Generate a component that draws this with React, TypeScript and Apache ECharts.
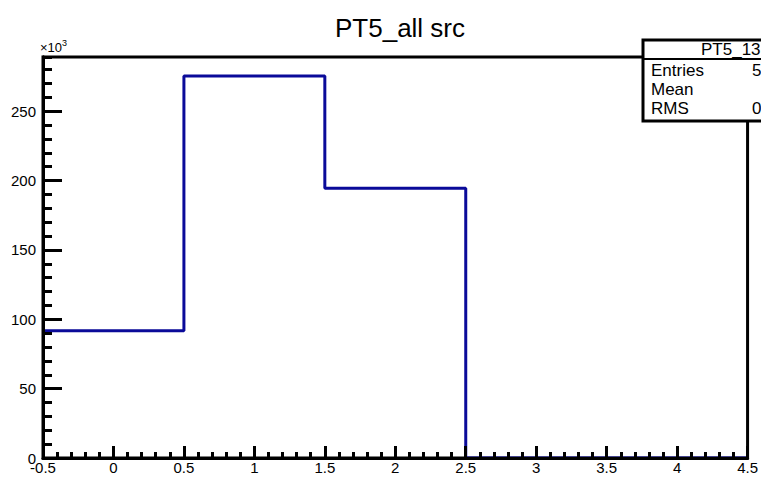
import React, { useEffect, useRef } from "react";
import * as echarts from "echarts";

// Histogram PT5_all src: bin edges and bin contents
const binEdges = [-0.5, 0.5, 1.5, 2.5, 3.5, 4.5];
const binCenters = [0, 1, 2, 3, 4];
const binContents = [91800, 275300, 194400, 0, 0];
const histName = "PT5_13";
const statLabels = ["Entries", "Mean", "RMS"];

const FONT = "Liberation Sans, Arial, Helvetica, sans-serif";

function stats() {
  const n = binContents.reduce((a, b) => a + b, 0);
  const mean = binContents.reduce((a, c, i) => a + c * binCenters[i], 0) / n;
  const m2 = binContents.reduce((a, c, i) => a + c * binCenters[i] * binCenters[i], 0) / n;
  const rms = Math.sqrt(m2 - mean * mean);
  return [n.toExponential(3).replace("e+", "e+0"), mean.toFixed(3), rms.toFixed(4)];
}

// step outline of the histogram
function outline(): [number, number][] {
  const pts: [number, number][] = [];
  for (let i = 0; i < binContents.length; i++) {
    pts.push([binEdges[i], binContents[i]]);
    pts.push([binEdges[i + 1], binContents[i]]);
  }
  return pts;
}

export default function App() {
  const ref = useRef<HTMLDivElement>(null);
  useEffect(() => {
    const chart = echarts.init(ref.current!, undefined, { renderer: "svg" });
    const st = stats();
    const yMax = Math.max(...binContents) * 1.05;
    const axisLine = { show: true, onZero: false, lineStyle: { color: "#000", width: 3 } };
    chart.setOption({
      animation: false,
      backgroundColor: "#ffffff",
      title: {
        text: "PT5_all src",
        left: 395,
        top: 10,
        textAlign: "center",
        textStyle: { fontFamily: FONT, fontSize: 26, fontWeight: "normal", color: "#000" },
      },
      grid: {
        left: 43,
        right: 11,
        top: 57,
        bottom: 19,
        show: true,
        borderColor: "#000",
        borderWidth: 3,
        backgroundColor: "transparent",
      },
      xAxis: {
        type: "value",
        min: -0.5,
        max: 4.5,
        interval: 0.5,
        z: 5,
        axisLine,
        axisTick: { show: true, inside: true, length: 12, lineStyle: { color: "#000", width: 3 } },
        minorTick: { show: true, splitNumber: 5, length: 6, lineStyle: { color: "#000", width: 3 } },
        splitLine: { show: false },
        axisLabel: {
          margin: 2,
          fontFamily: FONT,
          fontSize: 15,
          color: "#000",
          showMinLabel: true,
          showMaxLabel: true,
          formatter: (v: number) => String(v),
        },
      },
      yAxis: [
        {
          // labelled axis, major divisions
          type: "value",
          min: 0,
          max: yMax,
          interval: 50000,
          z: 5,
          axisLine,
          axisTick: { show: true, inside: true, length: 19, lineStyle: { color: "#000", width: 3 } },
          splitLine: { show: false },
          axisLabel: {
            margin: 7,
            fontFamily: FONT,
            fontSize: 15,
            color: "#000",
            showMaxLabel: false,
            formatter: (v: number) => String(Math.round(v / 1000)),
          },
        },
        {
          // minor divisions up to the top of the frame
          type: "value",
          position: "left",
          min: 0,
          max: yMax,
          interval: 10000,
          z: 5,
          axisLine,
          axisTick: { show: true, inside: true, length: 9, lineStyle: { color: "#000", width: 3 } },
          splitLine: { show: false },
          axisLabel: { show: false },
        },
      ],
      series: [
        {
          type: "line",
          data: outline(),
          symbol: "none",
          yAxisIndex: 0,
          lineStyle: { color: "#0a0a99", width: 3 },
          z: 1,
        },
      ],
      graphic: [
        {
          type: "text",
          left: 40,
          top: 38,
          z: 10,
          style: {
            text: "{a|×10}{b|3}",
            rich: {
              a: { fontFamily: FONT, fontSize: 13, color: "#000", verticalAlign: "bottom" },
              b: { fontFamily: FONT, fontSize: 9, color: "#000", verticalAlign: "top", padding: [0, 0, 7, 0] },
            },
          },
        },
        {
          type: "group",
          z: 20,
          children: [
            {
              type: "rect",
              shape: { x: 643, y: 40, width: 200, height: 81 },
              style: { fill: "#fff", stroke: "#000", lineWidth: 3 },
            },
            {
              type: "line",
              shape: { x1: 643, y1: 59, x2: 800, y2: 59 },
              style: { stroke: "#000", lineWidth: 2 },
            },
            {
              type: "text",
              x: 701,
              y: 49,
              style: { text: histName, fontFamily: FONT, fontSize: 17, fill: "#000", textVerticalAlign: "middle" },
            },
            ...statLabels.map((s, i) => ({
              type: "text",
              x: 651,
              y: 70 + i * 19,
              style: { text: s, fontFamily: FONT, fontSize: 17, fill: "#000", textVerticalAlign: "middle" },
            })),
            ...st.map((s, i) => ({
              type: "text",
              x: i === 1 ? 775 : 752,
              y: 70 + i * 19,
              style: { text: s, fontFamily: FONT, fontSize: 17, fill: "#000", textVerticalAlign: "middle" },
            })),
          ],
        },
      ],
    });
    return () => chart.dispose();
  }, []);
  return (
    <div
      ref={ref}
      style={{ position: "absolute", left: 0, top: 0, width: 761, height: 477, overflow: "hidden" }}
    />
  );
}
